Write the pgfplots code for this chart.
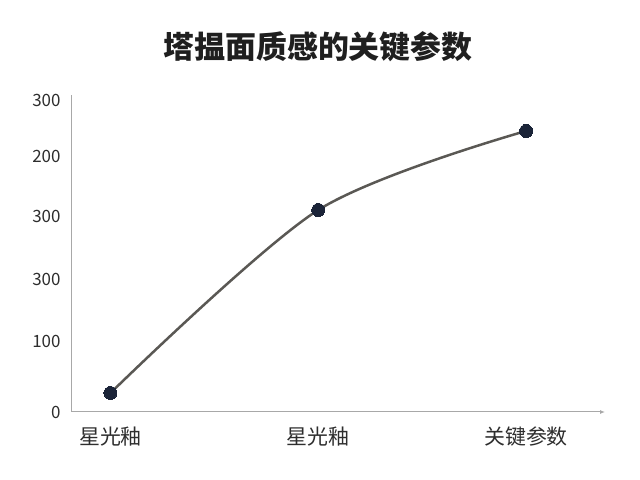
\documentclass[border=0pt]{standalone}
\usepackage{fontspec}
\setmainfont{Noto Sans CJK SC}
\usepackage{pgfplots}
\pgfplotsset{compat=1.18}
\usetikzlibrary{arrows.meta}
\definecolor{curve}{HTML}{5A5854}
\definecolor{dot}{HTML}{1B2438}
\definecolor{axisgray}{HTML}{A8A8A8}
\definecolor{txt}{HTML}{2E2E2E}

\begin{document}
\begin{tikzpicture}[x=1bp,y=1bp]
\fill[white] (0,0) rectangle (640,480);
\node[font=\fontsize{31}{34}\selectfont\bfseries, text=black!88] at (318,433) {塔揾面质感的关键参数};
\begin{axis}[
    at={(71bp,68bp)}, anchor=south west,
    scale only axis, width=534bp, height=317bp,
    xmin=-0.19, xmax=2.38, ymin=0, ymax=317,
    axis x line=bottom, axis y line=left,
    x axis line style={axisgray, line width=1bp, -{Latex[length=5bp,width=4bp]}},
    y axis line style={axisgray, line width=1bp, -},
    major tick length=0pt,
    xtick={0,1,2},
    xticklabels={星光釉, 星光釉, 关键参数},
    ytick={0,71,133,196,256,312},
    yticklabels={0,100,300,300,200,300},
    xticklabel style={font=\fontsize{21}{23}\selectfont, text=txt, yshift=-11bp},
    yticklabel style={font=\fontsize{17}{19}\selectfont, text=txt, xshift=-7bp},
    clip=false,
]
    \addplot[
        color=curve,
        line width=2.5bp,
        smooth,
        tension=0.5,
        mark=*,
        mark size=6.5bp,
        mark options={draw=dot, fill=dot, line width=0pt},
        ]
        coordinates {
            (0,19)
            (1,202)
            (2,281)
        };
\end{axis}
\end{tikzpicture}
\end{document}
